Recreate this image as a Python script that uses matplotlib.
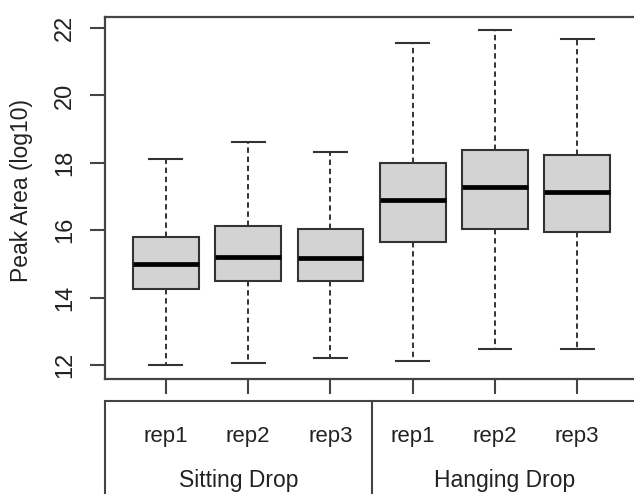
import matplotlib
matplotlib.use('Agg')
import matplotlib.pyplot as plt

plt.rcParams['font.family'] = ['Liberation Sans', 'DejaVu Sans']

groups = ['Sitting Drop', 'Hanging Drop']
reps = ['rep1', 'rep2', 'rep3', 'rep1', 'rep2', 'rep3']
whis_lo = [12.00, 12.05, 12.20, 12.10, 12.47, 12.47]
q1 = [14.26, 14.49, 14.50, 15.64, 16.03, 15.94]
med = [14.99, 15.21, 15.17, 16.90, 17.27, 17.12]
q3 = [15.80, 16.12, 16.03, 17.98, 18.38, 18.23]
whis_hi = [18.11, 18.63, 18.33, 21.55, 21.94, 21.69]
yticks = [12, 14, 16, 18, 20, 22]

stats = [dict(med=m, q1=a, q3=b, whislo=lo, whishi=hi, fliers=[])
         for lo, a, m, b, hi in zip(whis_lo, q1, med, q3, whis_hi)]
pos = list(range(1, len(stats) + 1))

fig = plt.figure(figsize=(6.34, 4.98), dpi=100)
# the plot region runs past the right edge of the picture, as in the original
ax = fig.add_axes([105 / 634, (498 - 379) / 498, (634 - 105) / 634, 362 / 498])

line_c = '#333333'
ax.bxp(stats, positions=pos, widths=0.8, capwidths=0.4, patch_artist=True,
       showfliers=False,
       boxprops=dict(facecolor='#d3d3d3', edgecolor=line_c, linewidth=1.5),
       medianprops=dict(color='black', linewidth=3.4, solid_capstyle='butt'),
       whiskerprops=dict(color=line_c, linewidth=1.4, linestyle=(0, (2.8, 1.9))),
       capprops=dict(color=line_c, linewidth=1.5))

ax.set_xlim(0.26, 6.69)
ax.set_ylim(11.58, 22.33)
for s in ax.spines.values():
    s.set_color('#444444')
    s.set_linewidth(1.6)
ax.spines['right'].set_visible(False)

ax.set_xticks(pos)
ax.set_xticklabels([])
ax.set_yticks(yticks)
ax.set_yticklabels([str(t) for t in yticks], rotation=90, va='center',
                   fontsize=17, color='#222222')
ax.tick_params(axis='both', direction='out', length=11, width=1.5, color='#444444')
ax.tick_params(axis='y', pad=10)

ax.set_ylabel('Peak Area (log10)', fontsize=16.5, color='#222222')
ax.yaxis.set_label_coords(-0.137, 0.52)

# grouped category axis below the plot
tr = ax.get_xaxis_transform()
y_line = -0.061
y_bot = -0.315
ax.plot([0.26, 7.2], [y_line, y_line], transform=tr, clip_on=False,
        color='#444444', lw=1.5)
bounds = [0.26, 3.5, 6.74]
for b in bounds[:2]:
    ax.plot([b, b], [y_line, y_bot], transform=tr, clip_on=False,
            color='#444444', lw=1.5)
for p, r in zip(pos, reps):
    ax.text(p, -0.174, r, transform=tr, ha='center', va='baseline',
            fontsize=16, color='#222222')
for i, g in enumerate(groups):
    ax.text((bounds[i] + bounds[i + 1]) / 2, -0.298, g, transform=tr,
            ha='center', va='baseline', fontsize=16.5, color='#222222')

fig.savefig('out.png', dpi=100)
